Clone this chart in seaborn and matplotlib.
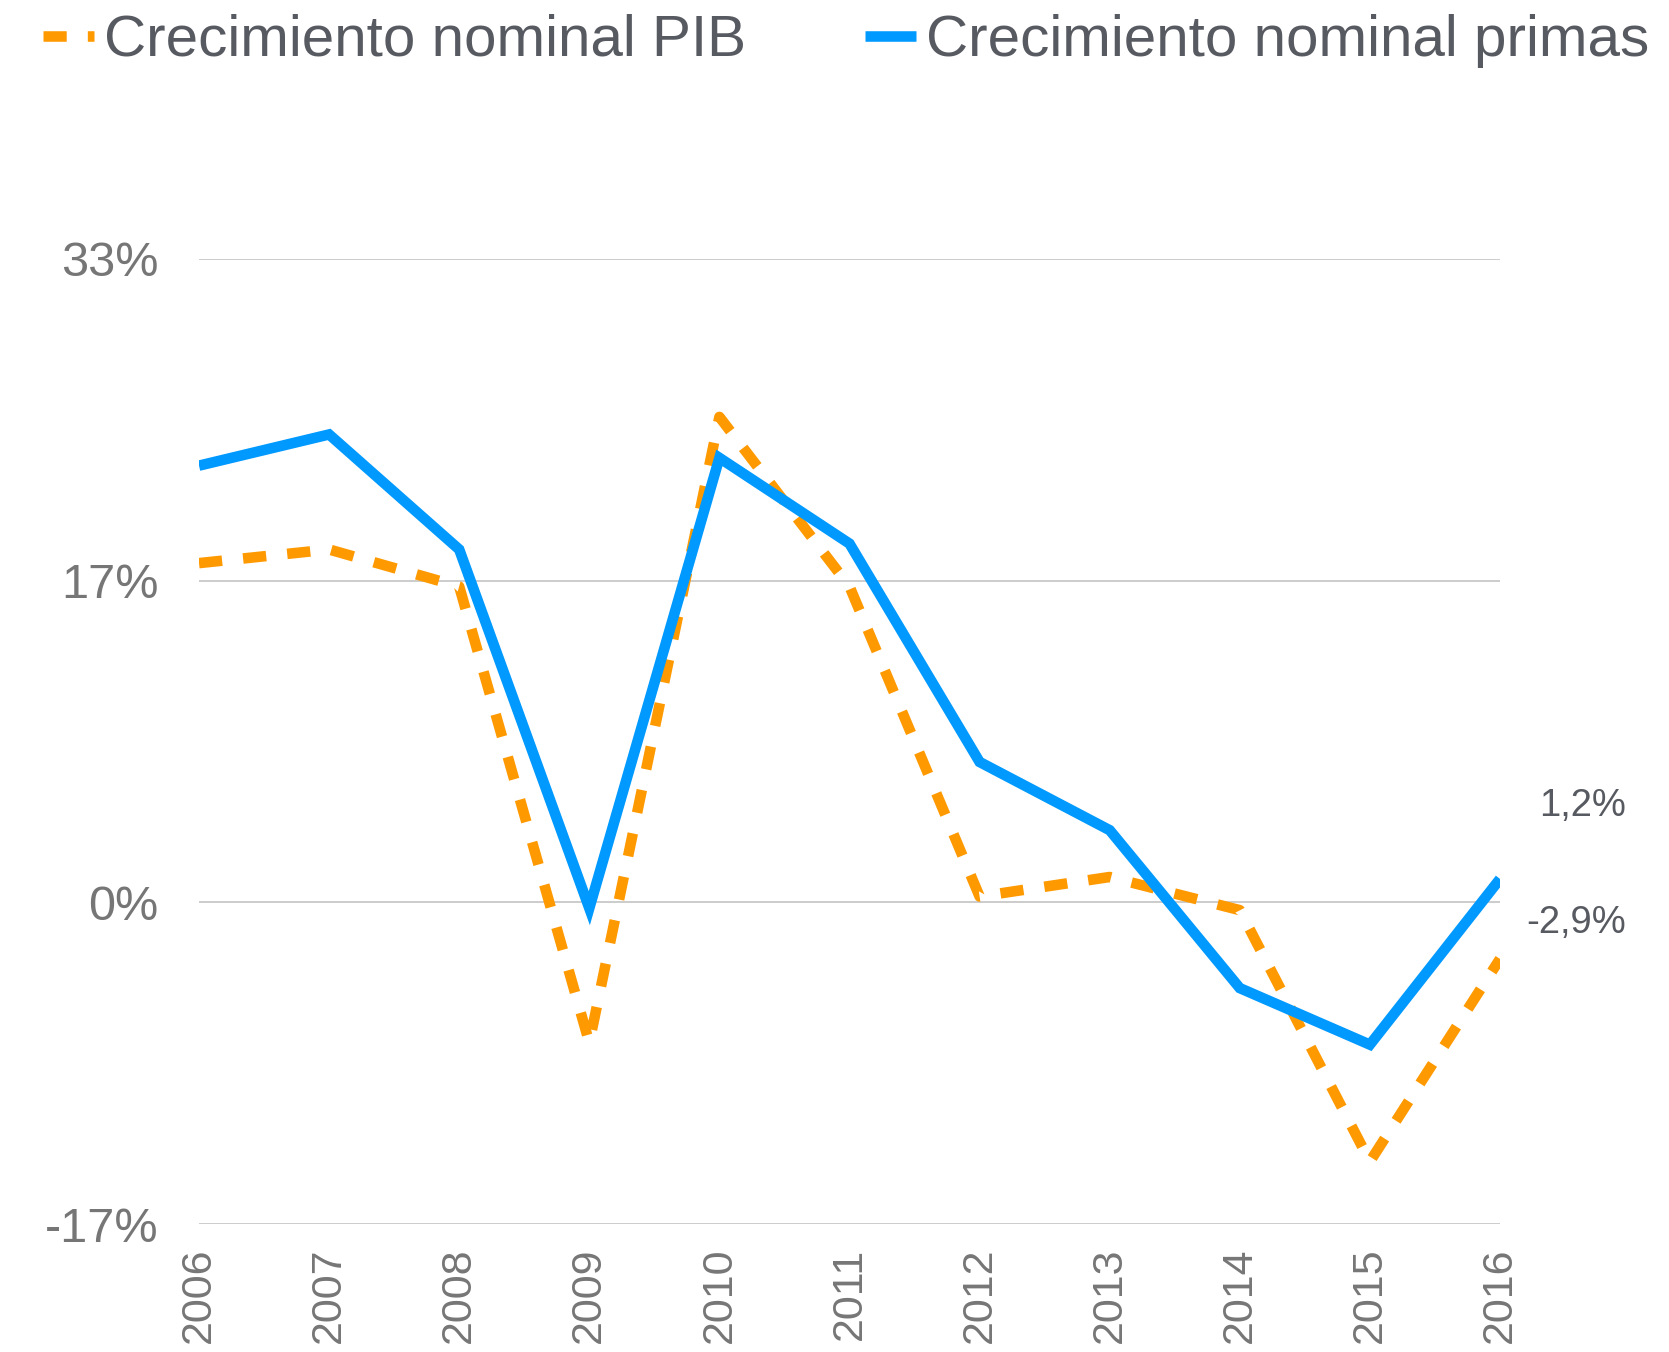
import matplotlib
matplotlib.use("Agg")
import matplotlib.pyplot as plt
from matplotlib import font_manager
import seaborn as sns
import pandas as pd

years = ["2006", "2007", "2008", "2009", "2010", "2011", "2012", "2013", "2014", "2015", "2016"]
pib = [17.4, 18.1, 16.2, -7.2, 24.9, 16.2, 0.3, 1.3, -0.4, -13.3, -2.9]
primas = [22.4, 24.0, 18.1, -0.3, 22.8, 18.4, 7.2, 3.7, -4.4, -7.3, 1.2]
series_names = ["Crecimiento nominal PIB", "Crecimiento nominal primas"]
ytick_vals = [-16.5, 0, 16.5, 33]
ytick_labels = ["-17%", "0%", "17%", "33%"]
end_labels = ["1,2%", "-2,9%"]

sns.set_theme(style="white")
names = {f.name for f in font_manager.fontManager.ttflist}
base = "Liberation Sans" if "Liberation Sans" in names else "DejaVu Sans"
plt.rcParams["font.family"] = [base, "DejaVu Sans"]

df = pd.DataFrame({
    "pos": list(range(len(years))) * 2,
    "valor": pib + primas,
    "serie": [series_names[0]] * len(years) + [series_names[1]] * len(years),
})

orange = "#FF9900"
blue = "#0099FF"

fig = plt.figure(figsize=(16.69, 13.52), dpi=100)
ax = fig.add_axes([199 / 1669, 1 - 1224 / 1352, 1301 / 1669, 965 / 1352])

sns.lineplot(data=df, x="pos", y="valor", hue="serie", style="serie",
             palette={series_names[0]: orange, series_names[1]: blue},
             dashes={series_names[0]: (2.2, 2.0), series_names[1]: ""},
             linewidth=7.6, ax=ax, legend=True, sort=False)
for ln in ax.get_lines():
    ln.set_dash_capstyle("butt")
    ln.set_solid_capstyle("butt")
    ln.set_solid_joinstyle("miter")

lines = ax.get_lines()
lines[0].set_zorder(3)
lines[1].set_zorder(4)

ax.set_xlim(0, len(years) - 1)
ax.set_ylim(-16.5, 33)
ax.set_yticks(ytick_vals)
ax.set_yticklabels(ytick_labels)
ax.set_xticks(range(len(years)))
ax.set_xticklabels(years, rotation=90)
ax.set_xlabel("")
ax.set_ylabel("")
ax.grid(axis="y", color="#C8C8C8", linewidth=1.3)
ax.grid(axis="x", visible=False)
for s in ax.spines.values():
    s.set_visible(False)
ax.tick_params(axis="y", length=0, pad=29, labelsize=35, labelcolor="#767676")
ax.tick_params(axis="x", length=0, pad=17, labelsize=31, labelcolor="#767676")

handles, labels = ax.get_legend_handles_labels()
ax.get_legend().remove()
leg = fig.legend(handles, labels, loc="center left",
                 bbox_to_anchor=(43 / 1669, 1 - 41 / 1352),
                 ncol=2, frameon=False, borderpad=0, borderaxespad=0,
                 handlelength=0.87, handletextpad=0.17, columnspacing=2.05,
                 prop={"family": [base], "size": 42})
for t in leg.get_texts():
    t.set_color("#575A61")
for h in leg.get_lines():
    h.set_linewidth(7.6)
    h.set_dash_capstyle("butt")
    h.set_solid_capstyle("butt")

last = len(years) - 1
ax.annotate(end_labels[0], xy=(last, primas[-1]), xytext=(126, 73),
            textcoords="offset pixels", ha="right", va="center",
            fontsize=27.5, color="#575A61", annotation_clip=False)
ax.annotate(end_labels[1], xy=(last, pib[-1]), xytext=(126, 36),
            textcoords="offset pixels", ha="right", va="center",
            fontsize=27.5, color="#575A61", annotation_clip=False)

fig.savefig("out.png", dpi=100)
